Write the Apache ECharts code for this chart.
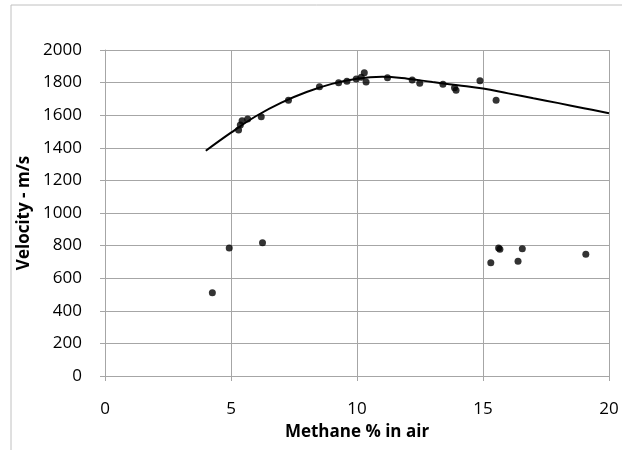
<!DOCTYPE html>
<html>
<head>
<meta charset="utf-8">
<script src="https://cdn.jsdelivr.net/npm/echarts@6/dist/echarts.min.js"></script>
<style>
  html, body { margin: 0; padding: 0; background: #fff; }
  #chart { width: 622px; height: 450px; }
</style>
</head>
<body>
<div id="chart"></div>
<script>
// measured points: methane % vs velocity
const methane = [4.26, 4.93, 5.30, 5.37, 5.44, 5.66, 6.20, 6.25, 7.28, 8.51, 9.27, 9.60, 9.97, 10.17, 10.29, 10.36,
  11.21, 12.19, 12.49, 13.41, 13.87, 13.93, 14.88, 15.31, 15.52, 15.62, 15.67, 16.39, 16.56, 19.08];
const velocity = [511, 785, 1509, 1540, 1566, 1577, 1591, 818, 1691, 1775, 1799, 1808, 1822, 1833, 1861, 1804,
  1830, 1816, 1796, 1790, 1769, 1753, 1812, 695, 1691, 785, 778, 704, 781, 747];

// fitted trend curve
const curveX = [4, 5, 6, 7, 8, 9, 10, 11, 12, 13, 14, 15, 16, 17, 18, 19, 20];
const curveY = [1382, 1493, 1595, 1677, 1742, 1792, 1824, 1836, 1824, 1803, 1784, 1764, 1734, 1704, 1674, 1643, 1612];

const xTicks = [0, 5, 10, 15, 20];
const yTicks = [0, 200, 400, 600, 800, 1000, 1200, 1400, 1600, 1800, 2000];

const font = '"Open Sans", "Liberation Sans", sans-serif';
const grey = '#a6a6a6';

let myChart = echarts.init(document.getElementById('chart'));
let option = {
  animation: false,
  grid: { left: 105, right: 13, top: 50, bottom: 74 },
  xAxis: {
    type: 'value',
    min: xTicks[0],
    max: xTicks[xTicks.length - 1],
    interval: 5,
    name: 'Methane % in air',
    nameLocation: 'middle',
    nameGap: 48,
    nameTextStyle: { fontFamily: font, fontSize: 17, fontWeight: 'bold', color: '#000' },
    axisLine: { show: true, onZero: false, lineStyle: { color: grey } },
    axisTick: { show: true, length: 5, lineStyle: { color: grey } },
    axisLabel: { fontFamily: font, fontSize: 17, color: '#000', margin: 25 },
    splitLine: { show: true, lineStyle: { color: grey } }
  },
  yAxis: {
    type: 'value',
    min: yTicks[0],
    max: yTicks[yTicks.length - 1],
    interval: 200,
    name: 'Velocity - m/s',
    nameLocation: 'middle',
    nameGap: 58,
    nameTextStyle: { fontFamily: font, fontSize: 17, fontWeight: 'bold', color: '#000' },
    axisLine: { show: true, lineStyle: { color: grey } },
    axisTick: { show: true, length: 5, lineStyle: { color: grey } },
    axisLabel: { fontFamily: font, fontSize: 17, color: '#000', margin: 23, formatter: v => String(v) },
    splitLine: { show: true, lineStyle: { color: grey } }
  },
  graphic: [
    { type: 'line', shape: { x1: 11, y1: 5, x2: 622, y2: 5 }, style: { stroke: '#c0c0c0', lineWidth: 1 } },
    { type: 'line', shape: { x1: 11, y1: 5, x2: 11, y2: 450 }, style: { stroke: '#c0c0c0', lineWidth: 1 } }
  ],
  series: [
    {
      type: 'line',
      data: curveX.map((x, i) => [x, curveY[i]]),
      smooth: 0.4,
      showSymbol: false,
      lineStyle: { color: '#000', width: 2 },
      z: 2
    },
    {
      type: 'scatter',
      data: methane.map((x, i) => [x, velocity[i]]),
      symbolSize: 7,
      itemStyle: { color: '#000' },
      z: 3
    }
  ]
};
option && myChart.setOption(option);
</script>
</body>
</html>
